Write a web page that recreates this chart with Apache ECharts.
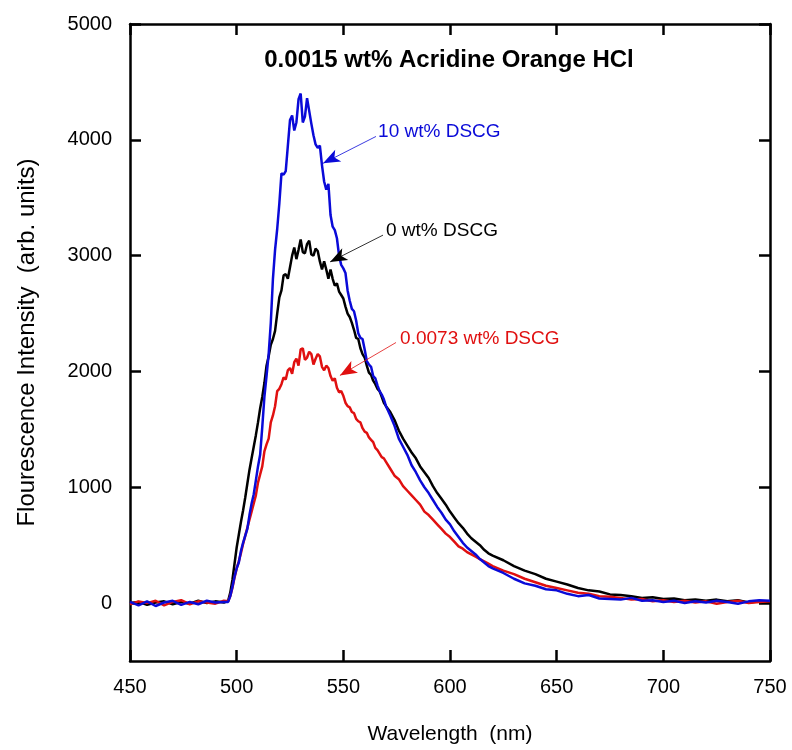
<!DOCTYPE html>
<html>
<head>
<meta charset="utf-8">
<script src="https://cdn.jsdelivr.net/npm/echarts@6/dist/echarts.min.js"></script>
<style>
  html, body { margin: 0; padding: 0; background: #fff; }
  #chart { width: 792px; height: 750px; }
</style>
</head>
<body>
<div id="chart"></div>
<script>
// wavelength (nm), shared by the three spectra
var wavelength = [
  450, 454, 458, 462, 466, 470, 474, 478, 482, 486, 490, 494,
  496, 497, 498, 499, 500, 501, 502, 503, 504, 505,
  506, 507, 508, 509, 510, 511, 512, 513, 514, 515,
  516, 517, 518, 519, 520, 521, 522, 523, 524, 525,
  526, 527, 528, 529, 530, 531, 532, 533, 534, 535,
  536, 537, 538, 539, 540, 541, 542, 543, 544, 545,
  546, 547, 548, 549, 550, 551, 552, 553, 554, 555,
  556, 557, 558, 559, 560, 561, 562, 563, 564, 565,
  566, 567, 568, 569, 570,
  572, 574, 576, 578, 580, 582, 584, 586, 588, 590,
  592, 594, 596, 598, 600, 602, 604, 606, 608, 610,
  612, 614, 616, 618, 620,
  625, 630, 635, 640, 645, 650, 655, 660, 665, 670,
  675, 680, 685, 690, 695, 700, 705, 710, 715, 720,
  725, 730, 735, 740, 745, 750
];

var dscg0 = [
  0, 10, -15, 5, 15, -10, 10, -5, 20, 0, 15, 5,
  20, 90, 200, 340, 480, 590, 700, 800, 910, 1030,
  1150, 1250, 1350, 1450, 1560, 1680, 1780, 1900, 2050, 2130,
  2230, 2280, 2350, 2500, 2640, 2700, 2830, 2840, 2800, 2900,
  3000, 3070, 2970, 3050, 3140, 3030, 3020, 3100, 3130, 3010,
  3000, 3060, 3040, 2950, 2880, 2950, 2880, 2800, 2880, 2800,
  2740, 2760, 2690, 2660, 2630, 2560, 2500, 2470, 2420, 2360,
  2290, 2280, 2200, 2150, 2120, 2050, 1990, 1970, 1920, 1890,
  1850, 1830, 1780, 1730, 1700,
  1650, 1580, 1490, 1420, 1360, 1300, 1250, 1180, 1130, 1080,
  1010, 950, 900, 850, 790, 740, 690, 650, 600, 560,
  530, 500, 460, 430, 410,
  370, 320, 280, 250, 210, 185, 160, 130, 110, 100,
  75, 70, 60, 45, 50, 35, 40, 25, 30, 20,
  30, 15, 25, 5, 15, 10
];

var dscg0073 = [
  -10, 15, 0, 20, -20, 10, 25, -10, 15, 5, -5, 20,
  15, 60, 130, 220, 300, 360, 430, 510, 580, 650,
  720, 790, 860, 930, 1040, 1110, 1180, 1310, 1370, 1420,
  1560, 1620, 1700, 1830, 1850, 1890, 1950, 1930, 2010, 2030,
  1980, 2080, 2110, 2050, 2190, 2200, 2100, 2120, 2170, 2150,
  2060, 2110, 2150, 2130, 2040, 2010, 2050, 2030, 1960, 1920,
  1940, 1860, 1820, 1830, 1790, 1730, 1700, 1690, 1650, 1640,
  1590, 1570, 1560, 1510, 1480, 1470, 1430, 1410, 1390, 1340,
  1320, 1290, 1260, 1250, 1220,
  1160, 1100, 1070, 1010, 970, 930, 890, 850, 790, 760,
  720, 680, 640, 600, 570, 530, 490, 470, 440, 420,
  400, 380, 360, 340, 320,
  280, 250, 210, 180, 150, 130, 110, 90, 80, 60,
  55, 45, 30, 35, 15, 25, 10, 20, 5, 15,
  -5, 10, 20, 0, 10, 15
];

var dscg10 = [
  10, -20, 15, -25, 5, 20, -15, 10, -10, 20, 5, 10,
  10, 60, 140, 230, 300, 350, 450, 520, 580, 640,
  760, 860, 940, 1060, 1180, 1280, 1520, 1780, 1960, 2150,
  2420, 2800, 3050, 3230, 3450, 3710, 3700, 3730, 3950, 4170,
  4210, 4080, 4150, 4350, 4400, 4150, 4200, 4360, 4250, 4140,
  4040, 3960, 3930, 3950, 3780, 3640, 3570, 3620, 3350, 3250,
  3220, 3150, 3000, 2920, 2890, 2850, 2700, 2610, 2540, 2520,
  2440, 2330, 2290, 2280, 2190, 2090, 2060, 2040, 1960, 1940,
  1880, 1830, 1800, 1760, 1700,
  1620, 1530, 1420, 1350, 1280, 1190, 1130, 1060, 1000, 950,
  890, 830, 780, 720, 680, 620, 570, 520, 480, 450,
  420, 380, 350, 320, 300,
  260, 210, 170, 150, 120, 110, 80, 60, 70, 40,
  35, 30, 45, 20, 25, 10, 20, 0, 15, 5,
  20, 10, -5, 15, 25, 20
];

var yTicks = [0, 1000, 2000, 3000, 4000, 5000];

function pairs(ys) {
  return wavelength.map(function (x, i) { return [x, ys[i]]; });
}

var font = 'Liberation Sans, Arial, sans-serif';

// label text position, arrow start, arrow tip (data coords), arrowhead angle
function spectrum(name, ys, color, textAt, from, to, headAngle) {
  return {
    name: name,
    type: 'line',
    data: pairs(ys),
    showSymbol: false,
    symbol: 'none',
    lineStyle: { color: color, width: 2.5 },
    itemStyle: { color: color },
    markLine: {
      silent: true,
      symbol: ['none', 'arrow'],
      symbolSize: [10, 17],
      symbolRotate: headAngle,
      lineStyle: { color: color, width: 0.8, type: 'solid' },
      label: { show: false },
      data: [[{ coord: from }, { coord: to }]]
    },
    markPoint: {
      silent: true,
      symbol: 'circle',
      symbolSize: 0,
      label: {
        show: true,
        position: 'right',
        distance: 0,
        formatter: name,
        color: color,
        fontSize: 19,
        fontFamily: font
      },
      data: [{ coord: textAt }]
    }
  };
}

var axisLine = { show: true, onZero: false, lineStyle: { color: '#000', width: 2.5 } };
var tickStyle = { color: '#000', width: 2.5 };

var option = {
  animation: false,
  backgroundColor: '#fff',
  title: {
    text: '0.0015 wt% Acridine Orange HCl',
    left: 444,
    textAlign: 'center',
    top: 43,
    textStyle: { fontSize: 24, fontWeight: 'bold', color: '#000', fontFamily: font }
  },
  grid: { left: 130, right: 22, top: 24, bottom: 86 },
  xAxis: [
    {
      type: 'value', min: 450, max: 750, interval: 50,
      name: 'Wavelength  (nm)', nameLocation: 'middle', nameGap: 63,
      nameTextStyle: { fontSize: 21, color: '#000', fontFamily: font },
      axisLine: axisLine,
      axisTick: { inside: true, length: 11, lineStyle: tickStyle },
      axisLabel: { fontSize: 20, color: '#000', margin: 16, fontFamily: font },
      splitLine: { show: false }
    },
    {
      type: 'value', min: 450, max: 750, interval: 50, position: 'top',
      axisLine: axisLine,
      axisTick: { inside: true, length: 11, lineStyle: tickStyle },
      axisLabel: { show: false },
      splitLine: { show: false }
    }
  ],
  yAxis: [
    {
      type: 'value', min: -500, max: 5000,
      name: 'Flourescence Intensity  (arb. units)', nameLocation: 'middle', nameGap: 91,
      nameTextStyle: { fontSize: 24, color: '#000', fontFamily: font },
      axisLine: axisLine,
      axisTick: { inside: true, length: 11, customValues: yTicks, lineStyle: tickStyle },
      axisLabel: {
        fontSize: 20, color: '#000', margin: 18, customValues: yTicks, fontFamily: font,
        formatter: function (v) { return String(v); }
      },
      splitLine: { show: false }
    },
    {
      type: 'value', min: -500, max: 5000, position: 'right',
      axisLine: axisLine,
      axisTick: { inside: true, length: 11, customValues: yTicks, lineStyle: tickStyle },
      axisLabel: { show: false },
      splitLine: { show: false }
    }
  ],
  series: [
    spectrum('0 wt% DSCG', dscg0, '#000000',
      [570, 3212], [568.6, 3177], [543.8, 2946], 117),
    spectrum('0.0073 wt% DSCG', dscg0073, '#e01010',
      [576.6, 2284], [574.7, 2250], [548.4, 1966], 120),
    spectrum('10 wt% DSCG', dscg10, '#0a0ad8',
      [566.3, 4070], [565.3, 4029], [540.5, 3797], 117)
  ]
};

var myChart = echarts.init(document.getElementById('chart'));
myChart.setOption(option);
</script>
</body>
</html>
